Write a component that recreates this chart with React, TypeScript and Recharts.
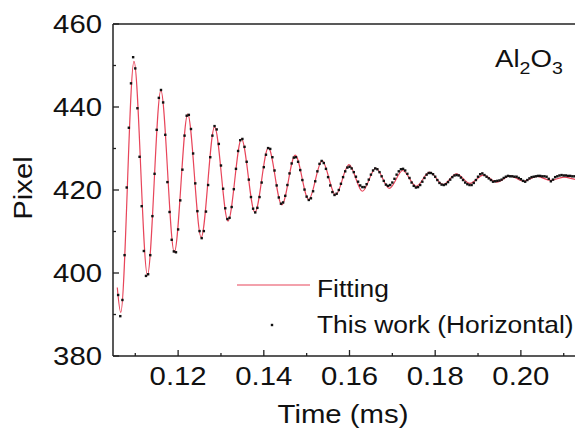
import React from 'react';
import { ComposedChart, Line, Scatter, XAxis, YAxis, ReferenceLine } from 'recharts';

const FONT = '"Liberation Sans", Arial, Helvetica, sans-serif';

// Frame sampling of the measured data (ms)
const sampleStart = 0.106;
const sampleStep = 0.0005;

// Measured edge position (pixel), one value per frame
const pixelValues = [
  394.7, 389.6, 393.5, 404.3, 420.6, 435.0, 445.7, 452.0, 449.3, 439.7,
  428.0, 416.1, 405.3, 399.3, 399.7, 404.3, 413.7, 423.9, 434.5, 442.2,
  444.1, 441.1, 433.3, 421.9, 414.7, 408.0, 405.2, 405.0, 410.5, 417.5,
  424.9, 433.1, 437.9, 438.1, 434.7, 428.8, 421.6, 414.9, 410.1, 408.4,
  410.1, 414.8, 421.2, 427.9, 433.1, 435.4,
  434.6, 431.1, 425.9, 420.3, 415.6, 413.0,
  413.3, 415.9, 420.2, 425.1, 429.4, 432.0,
  432.3, 430.4, 426.8, 422.5, 418.3, 415.5,
  414.6, 415.7, 418.3, 421.8, 425.5, 428.5, 430.1,
  429.9, 427.9, 424.7, 421.1, 418.2, 416.7,
  417.0, 418.6, 421.2, 424.0, 426.4, 427.8,
  427.9, 426.8, 424.8, 422.4, 420.1, 418.4, 417.6,
  418.0, 419.7, 422.1, 424.5, 426.3, 427.0,
  426.5, 425.1, 423.1, 421.1, 419.5, 418.8,
  419.1, 420.0, 421.5, 423.1, 424.5, 425.4,
  425.6, 425.2, 424.3, 423.2, 422.0, 421.1, 420.7,
  420.7, 421.4, 422.5, 423.7, 424.7, 425.2,
  425.0, 424.3, 423.3, 422.2, 421.3, 421.0,
  421.2, 421.8, 422.7, 423.7, 424.5, 425.0,
  425.1, 424.7, 423.9, 422.9, 421.8, 421.0, 420.6,
  420.7, 421.2, 422.0, 422.9, 423.7, 424.1,
  424.1, 423.8, 423.2, 422.4, 421.7, 421.3,
  421.2, 421.4, 421.9, 422.5, 423.1, 423.5, 423.6,
  423.5, 423.0, 422.4, 421.8, 421.4, 421.2,
  421.2, 421.7, 422.4, 423.2, 423.8, 424.0, 423.6, 423.2, 422.8, 422.4,
  422.0, 422.1, 422.2, 422.3, 422.5, 422.9, 423.2, 423.4, 423.3, 423.3,
  423.2, 423.2, 422.9, 422.6, 422.2, 422.0, 422.4, 422.8, 423.1, 423.2,
  423.3, 423.4, 423.4, 423.3, 423.3, 423.2, 422.7, 422.1, 422.5, 423.1,
  423.3, 423.5, 423.6, 423.5, 423.5, 423.4, 423.4, 423.3, 423.3, 423.2,
  423.2, 423.2,
];

// Fitted damped oscillation: extrema (ms, pixel)
const fitTimes = [
  0.1058, 0.1066, 0.1097, 0.11284, 0.11597, 0.11911, 0.12224, 0.12538, 0.12851,
  0.13165, 0.13479, 0.13792, 0.14106, 0.1442, 0.14733, 0.15047, 0.1536, 0.15674,
  0.15988, 0.16301, 0.16615, 0.16928, 0.17242, 0.17556, 0.17869, 0.18183, 0.18496,
  0.1881, 0.19124, 0.19437, 0.19751, 0.20064, 0.20378, 0.20692, 0.21005, 0.21319, 0.2145,
];
const fitValues = [
  396.5, 390.5, 451.0, 399.5, 444.0, 405.0, 438.3, 408.6, 435.2,
  412.5, 432.3, 414.6, 430.2, 416.4, 428.4, 417.7, 427.1, 418.8,
  426.1, 419.7, 425.3, 420.4, 424.7, 420.9, 424.3, 421.3, 423.9,
  421.6, 423.6, 421.9, 423.4, 422.1, 423.3, 422.3, 423.1, 422.5, 422.7,
];

const xTicks = [0.11, 0.12, 0.13, 0.14, 0.15, 0.16, 0.17, 0.18, 0.19, 0.2, 0.21];
const yTicks = [380, 390, 400, 410, 420, 430, 440, 450, 460];

const samples = pixelValues.map((v, i) => ({ t: +(sampleStart + i * sampleStep).toFixed(4), v }));
const fit = fitTimes.map((t, i) => ({ t, v: fitValues[i] }));

const AXIS = '#222';
const INK = '#111';
const RED = '#e8455a';
const SX = 1.15; // horizontal stretch of the lettering

const SText = ({ x, y, size, anchor = 'start', rotate = 0, sx = SX, children }: any) => (
  <text
    transform={`translate(${x},${y})${rotate ? ` rotate(${rotate})` : ''} scale(${sx},1)`}
    textAnchor={anchor}
    fontSize={size}
    fill={INK}
    fontFamily={FONT}
  >
    {children}
  </text>
);

const XTick = (props: any) => {
  const { x, y, payload } = props;
  const val = payload.value as number;
  const major = Math.round(val * 100) % 2 === 0;
  return (
    <g>
      <line x1={x} x2={x} y1={y} y2={y - (major ? 6 : 3)} stroke={AXIS} strokeWidth={1.3} />
      {major && (
        <SText x={x} y={y + 29} size={25.5} anchor="middle">
          {val.toFixed(2)}
        </SText>
      )}
    </g>
  );
};

const YTick = (props: any) => {
  const { x, y, payload } = props;
  const val = payload.value as number;
  const major = val % 20 === 0;
  return (
    <g>
      <line x1={x} x2={x + (major ? 6 : 3)} y1={y} y2={y} stroke={AXIS} strokeWidth={1.3} />
      {major && (
        <SText x={x - 11} y={y + 9} size={25.5} anchor="end">
          {val}
        </SText>
      )}
    </g>
  );
};

const Dot = (props: any) => {
  const { cx, cy } = props;
  if (cx == null || cy == null) return null;
  return <rect x={cx - 1.2} y={cy - 1.2} width={2.4} height={2.4} fill={INK} />;
};

export default function App() {
  return (
    <div style={{ position: 'relative', width: 575, height: 420, overflow: 'hidden', fontFamily: FONT }}>
      <ComposedChart width={575} height={420} margin={{ top: 16, right: 0, bottom: 0, left: 0 }}>
        <XAxis
          type="number"
          dataKey="t"
          domain={[0.1048, 0.2145]}
          allowDataOverflow
          ticks={xTicks}
          interval={0}
          tickSize={0}
          tickMargin={0}
          tickLine={false}
          tick={<XTick />}
          axisLine={{ stroke: AXIS, strokeWidth: 1.5 }}
          height={72}
        />
        <YAxis
          type="number"
          dataKey="v"
          domain={[380, 460]}
          allowDataOverflow
          ticks={yTicks}
          interval={0}
          tickSize={0}
          tickMargin={0}
          tickLine={false}
          tick={<YTick />}
          axisLine={{ stroke: AXIS, strokeWidth: 1.5 }}
          width={105}
        />
        <ReferenceLine y={460} stroke={AXIS} strokeWidth={1.5} />
        <Line
          data={fit}
          dataKey="v"
          type="monotone"
          stroke={RED}
          strokeWidth={1.2}
          dot={false}
          activeDot={false}
          isAnimationActive={false}
        />
        <Scatter data={samples} dataKey="v" shape={<Dot />} isAnimationActive={false} />
      </ComposedChart>
      <svg
        width={575}
        height={420}
        style={{ position: 'absolute', left: 0, top: 0, pointerEvents: 'none' }}
      >
        <SText x={335} y={415} size={25.5} anchor="middle">Time (ms)</SText>
        <SText x={24} y={180} size={25.5} anchor="middle" rotate={-90}>Pixel</SText>
        <SText x={487} y={58.7} size={24}>
          Al<tspan dy={7} fontSize={17}>2</tspan>
          <tspan dy={-7}>O</tspan>
          <tspan dy={7} fontSize={17}>3</tspan>
        </SText>
        <line x1={229} x2={302} y1={277} y2={277} stroke={RED} strokeWidth={1.2} />
        <SText x={309} y={289} size={24} sx={1.1}>Fitting</SText>
        <rect x={262.8} y={315.8} width={2.4} height={2.4} fill={INK} />
        <SText x={309} y={325} size={24} sx={1.1}>This work (Horizontal)</SText>
      </svg>
    </div>
  );
}
